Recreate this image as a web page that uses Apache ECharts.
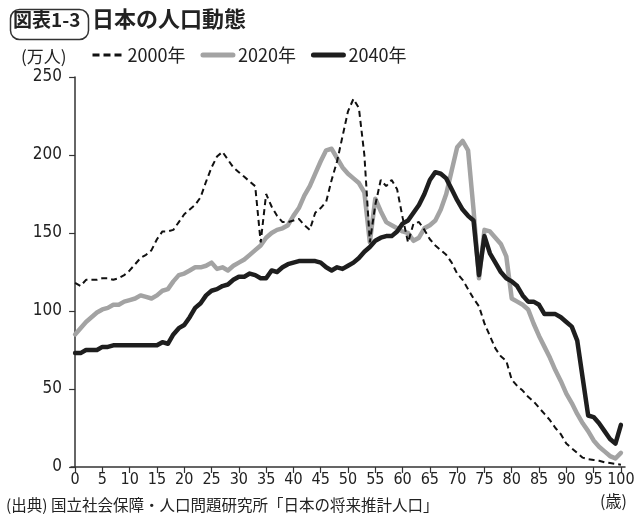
<!DOCTYPE html>
<html>
<head>
<meta charset="utf-8">
<script src="https://cdn.jsdelivr.net/npm/echarts@6/dist/echarts.min.js"></script>
<style>
html,body{margin:0;padding:0;background:#fff;}
#c{width:640px;height:530px;}
</style>
</head>
<body>
<div id="c"></div>
<script>
// ---- data ----
const ages = Array.from({length: 101}, (_, i) => i);
const xTicks = [0,5,10,15,20,25,30,35,40,45,50,55,60,65,70,75,80,85,90,95,100];
const yTicks = [0,50,100,150,200,250];
const seriesNames = ['2000年', '2020年', '2040年'];
const pop2000 = [118,116,120,120,120,121,121,120,121,123,
  126,130,134,136,139,146,151,151,152,157,
  162,165,168,173,183,192,199,202,197,192,
  189,186,183,180,144,175,167,161,157,157,
  158,159,155,152,163,166,170,184,196,212,
  228,236,230,200,144,168,184,180,184,178,
  160,144,156,157,152,146,142,139,136,131,
  124,120,114,108,103,92,84,76,71,68,
  56,52,49,45,42,38,34,30,25,21,
  15,12,9,6,5,4.5,4,3,2.5,2,1.5];
const pop2020 = [85,89,93,96,99,101,102,104,104,106,
  107,108,110,109,108,110,113,114,119,123,
  124,126,128,128,129,131,127,128,126,129,
  131,133,136,139,142,147,150,152,153,155,
  161,166,174,180,188,196,203,204,198,192,
  188,185,182,176,144,172,164,157,155,153,
  151,150,145,147,153,155,158,165,175,190,
  205,209,203,165,121,152,151,147,143,135,
  108,106,104,101,92,84,77,70,62,55,
  47,41,34,28,23,17,13,10,7,5.5,9];
const pop2040 = [73,73,75,75,75,77,77,78,78,78,
  78,78,78,78,78,78,80,79,85,89,
  91,96,102,105,110,113,114,116,117,120,
  122,122,124,123,121,121,126,125,128,130,
  131,132,132,132,132,131,128,126,128,127,
  129,131,134,138,141,145,147,148,148,151,
  156,158,163,168,175,184,189,188,185,178,
  171,165,161,158,123,148,137,131,125,121,
  119,116,110,106,106,104,98,98,98,96,
  93,90,81,57,33,32,28,23,18,15,27];

const pairs = arr => ages.map((a, i) => [a, arr[i]]);
const numFont = "'Liberation Sans Narrow','DejaVu Sans Condensed','Noto Sans CJK JP',sans-serif";
const jpFont = "'Noto Sans CJK JP','Noto Sans',sans-serif";

const chart = echarts.init(document.getElementById('c'), null, {renderer: 'canvas'});
chart.setOption({
  animation: false,
  backgroundColor: '#ffffff',
  grid: {left: 71, right: 15, top: 77, bottom: 63},
  legend: {
    left: 86, top: 41,
    itemWidth: 30, itemHeight: 12, itemGap: 15,
    itemStyle: {opacity: 0},
    textStyle: {fontFamily: jpFont, fontSize: 18, color: '#222'},
    data: [
      {name: seriesNames[0], lineStyle: {width: 3, type: [7, 4], color: '#111'}},
      {name: seriesNames[1], lineStyle: {width: 5, color: '#a3a3a3', cap: 'round'}},
      {name: seriesNames[2], lineStyle: {width: 5, color: '#1e1e1e', cap: 'round'}}
    ]
  },
  graphic: [
    {type: 'rect', left: 8, top: 7, shape: {width: 78, height: 30, r: 9},
     style: {fill: 'none', stroke: '#333', lineWidth: 1.5}},
    {type: 'text', left: 13, top: 10,
     style: {text: '図表1-3', font: "bold 19px " + jpFont, fill: '#222'}},
    {type: 'text', left: 92, top: 8,
     style: {text: '日本の人口動態', font: "bold 22px " + jpFont, fill: '#222'}},
    {type: 'text', left: 21, top: 48,
     style: {text: '(万人)', font: "17px " + jpFont, fill: '#222'}},
    {type: 'text', left: 600, top: 493,
     style: {text: '(歳)', font: "16px " + jpFont, fill: '#222'}},
    {type: 'text', left: 6, top: 497,
     style: {text: '(出典) 国立社会保障・人口問題研究所「日本の将来推計人口」', font: "15.5px " + jpFont, fill: '#222'}}
  ],
  xAxis: {
    type: 'value', min: -0.75, max: 100.75,
    splitLine: {show: false},
    axisLine: {lineStyle: {color: '#333', width: 1.5}},
    axisTick: {show: true, length: 6, customValues: xTicks, lineStyle: {color: '#333', width: 1.2}},
    axisLabel: {customValues: xTicks, fontFamily: numFont, fontSize: 16, color: '#222', margin: 5}
  },
  yAxis: {
    type: 'value', min: 0, max: 250, interval: 50,
    splitLine: {show: false},
    axisLine: {show: true, lineStyle: {color: '#333', width: 1.5}},
    axisTick: {show: true, length: 6, lineStyle: {color: '#333', width: 1.2}},
    axisLabel: {fontFamily: numFont, fontSize: 17, color: '#222', margin: 9}
  },
  series: [
    {name: seriesNames[0], type: 'line', data: pairs(pop2000), symbol: 'none', z: 3,
     lineStyle: {color: '#111', width: 2, type: [6, 4]}, itemStyle: {color: '#111'}},
    {name: seriesNames[1], type: 'line', data: pairs(pop2020), symbol: 'none', z: 2,
     lineStyle: {color: '#a3a3a3', width: 4.5, cap: 'round', join: 'round'}, itemStyle: {color: '#a3a3a3'}},
    {name: seriesNames[2], type: 'line', data: pairs(pop2040), symbol: 'none', z: 4,
     lineStyle: {color: '#1e1e1e', width: 4.5, cap: 'round', join: 'round'}, itemStyle: {color: '#1e1e1e'}}
  ]
});
</script>
</body>
</html>
